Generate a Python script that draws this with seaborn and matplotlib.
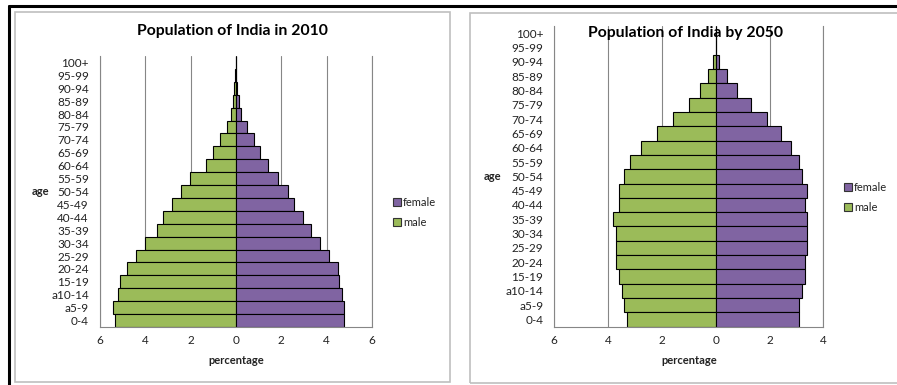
import matplotlib
matplotlib.use("Agg")
import matplotlib.pyplot as plt
import seaborn as sns
import pandas as pd
from matplotlib.patches import Patch, Rectangle
from matplotlib.lines import Line2D
from matplotlib.ticker import FixedLocator, FuncFormatter

ages = ['100+', '95-99', '90-94', '85-89', '80-84', '75-79', '70-74', '65-69',
        '60-64', '55-59', '50-54', '45-49', '40-44', '35-39', '30-34', '25-29',
        '20-24', '15-19', 'a10-14', 'a5-9', '0-4']

male_2010 = [0, 0.04, 0.08, 0.13, 0.21, 0.40, 0.71, 1.03, 1.31, 2.03, 2.43,
             2.82, 3.22, 3.50, 4.01, 4.41, 4.81, 5.12, 5.21, 5.41, 5.34]
female_2010 = [0, 0.01, 0.03, 0.12, 0.21, 0.49, 0.81, 1.07, 1.40, 1.87, 2.31,
               2.57, 2.97, 3.31, 3.71, 4.10, 4.50, 4.56, 4.68, 4.76, 4.76]

male_2050 = [0, 0, 0.10, 0.30, 0.59, 1.00, 1.59, 2.19, 2.79, 3.19, 3.40,
             3.59, 3.59, 3.80, 3.69, 3.69, 3.69, 3.59, 3.49, 3.40, 3.30]
female_2050 = [0, 0, 0.11, 0.41, 0.81, 1.31, 1.90, 2.41, 2.81, 3.11, 3.21,
               3.41, 3.31, 3.41, 3.41, 3.41, 3.31, 3.31, 3.21, 3.11, 3.11]

titles = ['Population of India in 2010', 'Population of India by 2050']
x_ticks_2010 = [-6, -4, -2, 0, 2, 4, 6]
x_ticks_2050 = [-6, -4, -2, 0, 2, 4]

GREEN = '#9BBB59'
PURPLE = '#8064A2'
GRID = '#868686'
TXT = '#222222'

sns.set_style('white')
plt.rcParams['font.family'] = ['Lato', 'DejaVu Sans']

W, H = 897, 385
fig = plt.figure(figsize=(W / 100, H / 100), dpi=100)


def fx(px):
    return px / W


def fy(py):
    return 1 - py / H


# outer decorations: thick black border at top/left and gray panel boxes
fig.add_artist(Line2D([fx(9), fx(897)], [fy(5.5), fy(5.5)], color='black', lw=2.2))
fig.add_artist(Line2D([fx(9), fx(9)], [fy(5.5), fy(385)], color='black', lw=2.2))
fig.add_artist(Rectangle((fx(15), fy(382)), fx(450 - 15), (382 - 12) / H,
                         fill=False, edgecolor='#BFBFBF', lw=1.2))
fig.add_artist(Rectangle((fx(470), fy(383)), fx(460), (383 - 13) / H,
                         fill=False, edgecolor='#BFBFBF', lw=1.2))

panels = [
    dict(rect=(100, 56, 372, 327), male=male_2010, female=female_2010,
         ticks=x_ticks_2010, xlim=(-6, 6), title=titles[0], title_xy=(232, 31),
         leg_xy=(393, 212.5)),
    dict(rect=(554.3, 26, 823.3, 326.7), male=male_2050, female=female_2050,
         ticks=x_ticks_2050, xlim=(-6, 4), title=titles[1], title_xy=(685, 33),
         leg_xy=(844, 197.5)),
]

for p in panels:
    x0, y0, x1, y1 = p['rect']
    ax = fig.add_axes([fx(x0), fy(y1), (x1 - x0) / W, (y1 - y0) / H])
    df = pd.DataFrame({'age': ages,
                       'male': [-v for v in p['male']],
                       'female': p['female']})
    sns.barplot(data=df, x='male', y='age', orient='h', color=GREEN,
                saturation=1, width=1.0, edgecolor='black', linewidth=0.8, ax=ax)
    sns.barplot(data=df, x='female', y='age', orient='h', color=PURPLE,
                saturation=1, width=1.0, edgecolor='black', linewidth=0.8, ax=ax)
    ax.set_xlim(*p['xlim'])
    ax.xaxis.set_major_locator(FixedLocator(p['ticks']))
    ax.xaxis.set_major_formatter(FuncFormatter(lambda v, pos: f'{abs(v):g}'))
    ax.grid(axis='x', color=GRID, lw=0.8)
    ax.grid(axis='y', visible=False)
    ax.set_axisbelow(True)
    ax.spines['top'].set_visible(False)
    for s in ['left', 'right', 'bottom']:
        ax.spines[s].set_color(GRID)
        ax.spines[s].set_linewidth(0.8)
    ax.tick_params(axis='x', direction='out', length=3.5, width=0.8, color=GRID,
                   labelsize=8.5, pad=2.5, labelcolor=TXT)
    ax.tick_params(axis='y', length=0, labelsize=8.5, pad=8, labelcolor=TXT)
    ax.set_xlabel('percentage', fontsize=8, fontweight='bold', color=TXT)
    ax.xaxis.set_label_coords(0.5, -(361 - y1) / (y1 - y0))
    ax.xaxis.label.set_va('center')
    ax.set_ylabel('age', rotation=0, fontsize=8, fontweight='bold', color=TXT)
    lx = (40 if x0 < 300 else 493)
    ax.yaxis.set_label_coords((lx - x0) / (x1 - x0), 0.5)
    ax.yaxis.label.set_ha('center')
    ax.yaxis.label.set_va('center')
    fig.text(fx(p['title_xy'][0]), fy(p['title_xy'][1]), p['title'],
             ha='center', va='center', fontsize=11.3, fontweight='bold', color='black')
    handles = [Patch(facecolor=PURPLE, edgecolor='#333333', lw=0.8, label='female'),
               Patch(facecolor=GREEN, edgecolor='#333333', lw=0.8, label='male')]
    ax.legend(handles=handles, loc='center left',
              bbox_to_anchor=(fx(p['leg_xy'][0]), fy(p['leg_xy'][1])),
              bbox_transform=fig.transFigure, frameon=False, fontsize=8,
              handlelength=0.7, handleheight=0.7, handletextpad=0.2,
              labelspacing=0.85, borderpad=0, borderaxespad=0,
              labelcolor=TXT)

fig.savefig('out.png', dpi=100)
